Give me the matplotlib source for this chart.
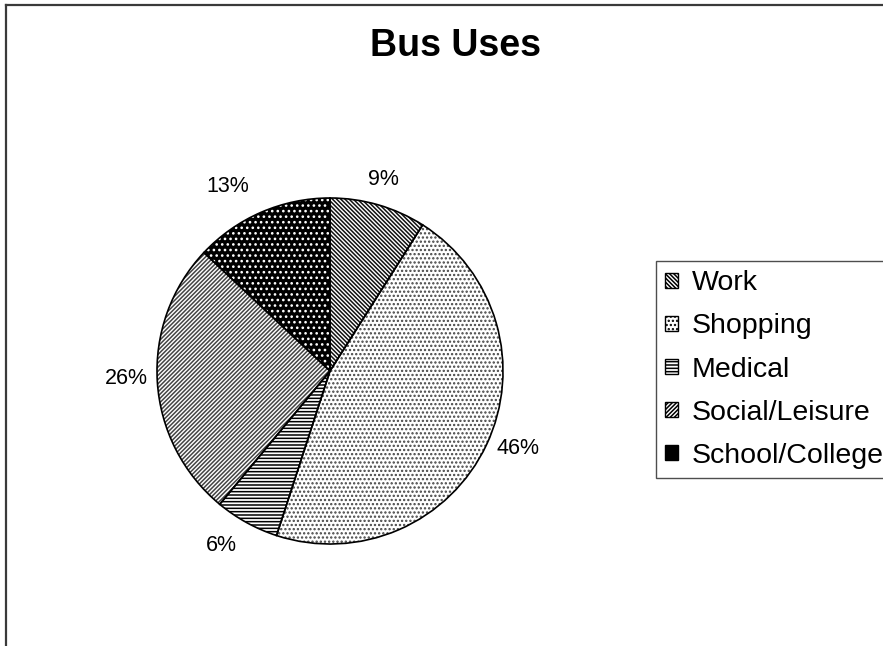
import numpy as np
import matplotlib
matplotlib.use("Agg")
import matplotlib.pyplot as plt
from matplotlib.lines import Line2D

categories = ["Work", "Shopping", "Medical", "Social/Leisure", "School/College"]
values = [9, 46, 6, 26, 13]
title = "Bus Uses"

hatches = ["\\" * 8, "." * 4, "-" * 5, "/" * 8, "." * 3]
facecolors = ["white", "white", "white", "white", "black"]
hatchcolors = ["#111111", "#444444", "black", "#444444", "white"]
label_dist = [1.146, 1.175, 1.19, 1.18, 1.22]
label_dang = [0.7, 2.9, -3.0, -1.6, 5.7]

plt.rcParams['font.family'] = ['Liberation Sans', 'DejaVu Sans']
plt.rcParams['hatch.linewidth'] = 1.1

W, H = 883, 646
fig = plt.figure(figsize=(W / 100, H / 100), dpi=100)
fig.patch.set_facecolor("white")

cx, cy, r = 330, 371, 173
ax = fig.add_axes([(cx - r) / W, (H - cy - r) / H, 2 * r / W, 2 * r / H])

wedges, _ = ax.pie(values, startangle=90, counterclock=False, radius=1.0,
                   colors=facecolors, wedgeprops=dict(linewidth=0))
for w, h, hc in zip(wedges, hatches, hatchcolors):
    w.set_hatch(h)
    w.set_edgecolor(hc)
    w.set_linewidth(0)

outl, _ = ax.pie(values, startangle=90, counterclock=False, radius=1.0,
                 wedgeprops=dict(fill=False, edgecolor="black", linewidth=1.2))

for w, v, d, da in zip(wedges, values, label_dist, label_dang):
    mid = np.deg2rad((w.theta1 + w.theta2) / 2 + da)
    ax.text(d * np.cos(mid), d * np.sin(mid), f"{v}%", ha="center", va="center",
            fontsize=15.5, clip_on=False)

ax.set_xlim(-1, 1)
ax.set_ylim(-1, 1)
ax.set_aspect("auto")
ax.axis("off")

fig.text(455 / W, 1 - 46 / H, title, ha="center", va="center",
         fontsize=27, fontweight="bold")

leg = fig.legend(wedges, categories, loc="upper left",
                 bbox_to_anchor=(656 / W, 1 - 261 / H),
                 fontsize=20.5, handlelength=0.43, handleheight=0.43,
                 handletextpad=0.5, labelspacing=0.6, borderpad=0.33,
                 borderaxespad=0, fancybox=False, frameon=True)
leg.get_frame().set_edgecolor("#222222")
leg.get_frame().set_linewidth(1.0)
for hnd, h, hc, fc in zip(leg.legend_handles, hatches, hatchcolors, facecolors):
    hnd.set_hatch(h)
    hnd.set_facecolor(fc)
    hnd.set_edgecolor("black")
    hnd.set_linewidth(1.0)

# outer chart frame
fig.add_artist(Line2D([6 / W, 1.0], [1 - 5 / H, 1 - 5 / H], color="#3a3a3a",
                      linewidth=1.6, transform=fig.transFigure))
fig.add_artist(Line2D([6 / W, 6 / W], [0, 1 - 5 / H], color="#3a3a3a",
                      linewidth=1.6, transform=fig.transFigure))

fig.savefig("out.png", dpi=100, facecolor="white")
